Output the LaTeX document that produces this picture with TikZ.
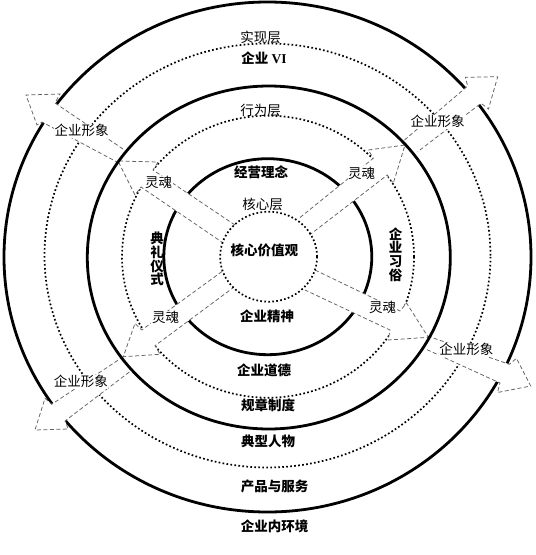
\documentclass[tikz,border=0pt]{standalone}
\usepackage{fontspec}
\newfontfamily\cjk{Noto Sans CJK SC}
\newfontfamily\lat{Liberation Serif}
\tikzset{
  solidring/.style={line width=2.8pt},
  dotring/.style={line width=1.7pt, dash pattern=on 1.7pt off 2.3pt},
  arrowfill/.style={fill=white},
  arrowedge/.style={draw=black!62, line width=0.75pt, dash pattern=on 4pt off 2.5pt},
  lbl/.style={font=\cjk\fontsize{13.5}{14}\selectfont, inner sep=0pt},
  blbl/.style={font=\cjk\bfseries\fontsize{13.5}{14}\selectfont, inner sep=0pt},
  albl/.style={font=\cjk\fontsize{13.5}{14}\selectfont, fill=white, inner sep=0.6pt},
}
\begin{document}
\begin{tikzpicture}[x=1pt,y=-1pt]
\useasboundingbox (0,0) rectangle (536,555);
% rings drawn below the arrows
\draw[solidring] (267.5,257) ellipse [x radius=263.5pt, y radius=255pt];
\draw[dotring] (267.5,255.5) ellipse [x radius=223pt, y radius=212pt];
\draw[dotring] (268,256.7) ellipse [x radius=146pt, y radius=141pt];
\draw[solidring] (267.8,256.7) ellipse [x radius=104pt, y radius=98pt];

% ---- upper left
\fill[arrowfill] (123,149) -- (55,103) -- (60,94) -- (26,95) -- (37,125) -- (42,122) -- (117,162) -- cycle;
\draw[arrowedge] (123,149) -- (55,103) -- (60,94) -- (26,95) -- (37,125) -- (42,122) -- (117,162);
\fill[arrowfill] (235,225) -- (153,170) -- (158,162) -- (118,161) -- (135,195) -- (141,187) -- (222.5,242.5) -- cycle;
\draw[arrowedge] (235,225) -- (153,170) -- (158,162) -- (118,161) -- (135,195) -- (141,187) -- (222.5,242.5);
% ---- upper right
\fill[arrowfill] (404.5,140) -- (467.7,86) -- (465.3,77.3) -- (497.7,76.7) -- (488.5,109) -- (481,103.3) -- (417.7,151.7) -- cycle;
\draw[arrowedge] (404.5,140) -- (467.7,86) -- (465.3,77.3) -- (497.7,76.7) -- (488.5,109) -- (481,103.3) -- (417.7,151.7);
\fill[arrowfill] (300,217.5) -- (373.3,158.3) -- (368.3,150) -- (405,145) -- (393.3,183.3) -- (387.3,175) -- (309.5,235) -- cycle;
\draw[arrowedge] (300,217.5) -- (373.3,158.3) -- (368.3,150) -- (405,145) -- (393.3,183.3) -- (387.3,175) -- (309.5,235);
% ---- lower left
\fill[arrowfill] (123.3,356.7) -- (51.7,404.3) -- (45,398.3) -- (35,430) -- (68.3,429) -- (65,421) -- (130,371.5) -- cycle;
\draw[arrowedge] (123.3,356.7) -- (51.7,404.3) -- (45,398.3) -- (35,430) -- (68.3,429) -- (65,421) -- (130,371.5);
\fill[arrowfill] (222,271.5) -- (141.7,330) -- (135,323.3) -- (123.3,356.7) -- (160,354.3) -- (155,345.7) -- (233.5,287.5) -- cycle;
\draw[arrowedge] (222,271.5) -- (141.7,330) -- (135,323.3) -- (123.3,356.7) -- (160,354.3) -- (155,345.7) -- (233.5,287.5);
% ---- lower right
\fill[arrowfill] (427.5,336) -- (509.3,364.3) -- (516.5,358.3) -- (530.7,386) -- (497.5,392.5) -- (500,383) -- (425.5,349) -- cycle;
\draw[arrowedge] (427.5,336) -- (509.3,364.3) -- (516.5,358.3) -- (530.7,386) -- (497.5,392.5) -- (500,383) -- (425.5,349);
\fill[arrowfill] (315,270) -- (400,311) -- (406.5,303) -- (428.3,337.3) -- (388.3,340) -- (390,330) -- (305,290) -- cycle;
\draw[arrowedge] (315,270) -- (400,311) -- (406.5,303) -- (428.3,337.3) -- (388.3,340) -- (390,330) -- (305,290);

% rings drawn above the arrows
\draw[solidring] (268.8,257.5) ellipse [x radius=181.5pt, y radius=171.5pt];
\draw[dotring] (268.6,256.7) ellipse [x radius=48.5pt, y radius=45pt];

% layer labels
\node[lbl] (shixian) at (260.5,37.5) {实现层};
\node[blbl] (vi) at (264,58.5) {企业 {\lat\bfseries VI}};
\node[lbl] (xingwei) at (260.5,110) {行为层};
\node[blbl] (jingying) at (261,172.5) {经营理念};
\node[lbl] (hexinceng) at (262.5,204) {核心层};
\node[blbl] (hexin) at (264.3,250.8) {核心价值观};
\node[blbl, align=center, font=\cjk\bfseries\fontsize{13.5}{12}\selectfont] (dianli) at (157,259) {典\\礼\\仪\\式};
\node[blbl, align=center, font=\cjk\bfseries\fontsize{13.5}{13.7}\selectfont] (xisu) at (395.5,254.5) {企\\业\\习\\俗};
\node[blbl] (jingshen) at (267,316.5) {企业精神};
\node[blbl] (daode) at (264,370) {企业道德};
\node[blbl] (zhidu) at (268,405) {规章制度};
\node[blbl] (renwu) at (268,441.5) {典型人物};
\node[blbl] (chanpin) at (274.5,486.5) {产品与服务};
\node[blbl] (huanjing) at (274.5,526.5) {企业内环境};

% arrow labels
\node[albl] (xxul) at (81.7,130.8) {企业形象};
\node[albl] (lhul) at (158.7,182.5) {灵魂};
\node[albl] (xxur) at (437.5,121.7) {企业形象};
\node[albl] (lhur) at (361.7,173.3) {灵魂};
\node[albl] (xxll) at (80.8,381.7) {企业形象};
\node[albl] (lhll) at (165.5,317.5) {灵魂};
\node[albl] (lhlr) at (382.5,307.5) {灵魂};
\node[albl] (xxlr) at (466.3,349.7) {企业形象};
\end{tikzpicture}
\end{document}
